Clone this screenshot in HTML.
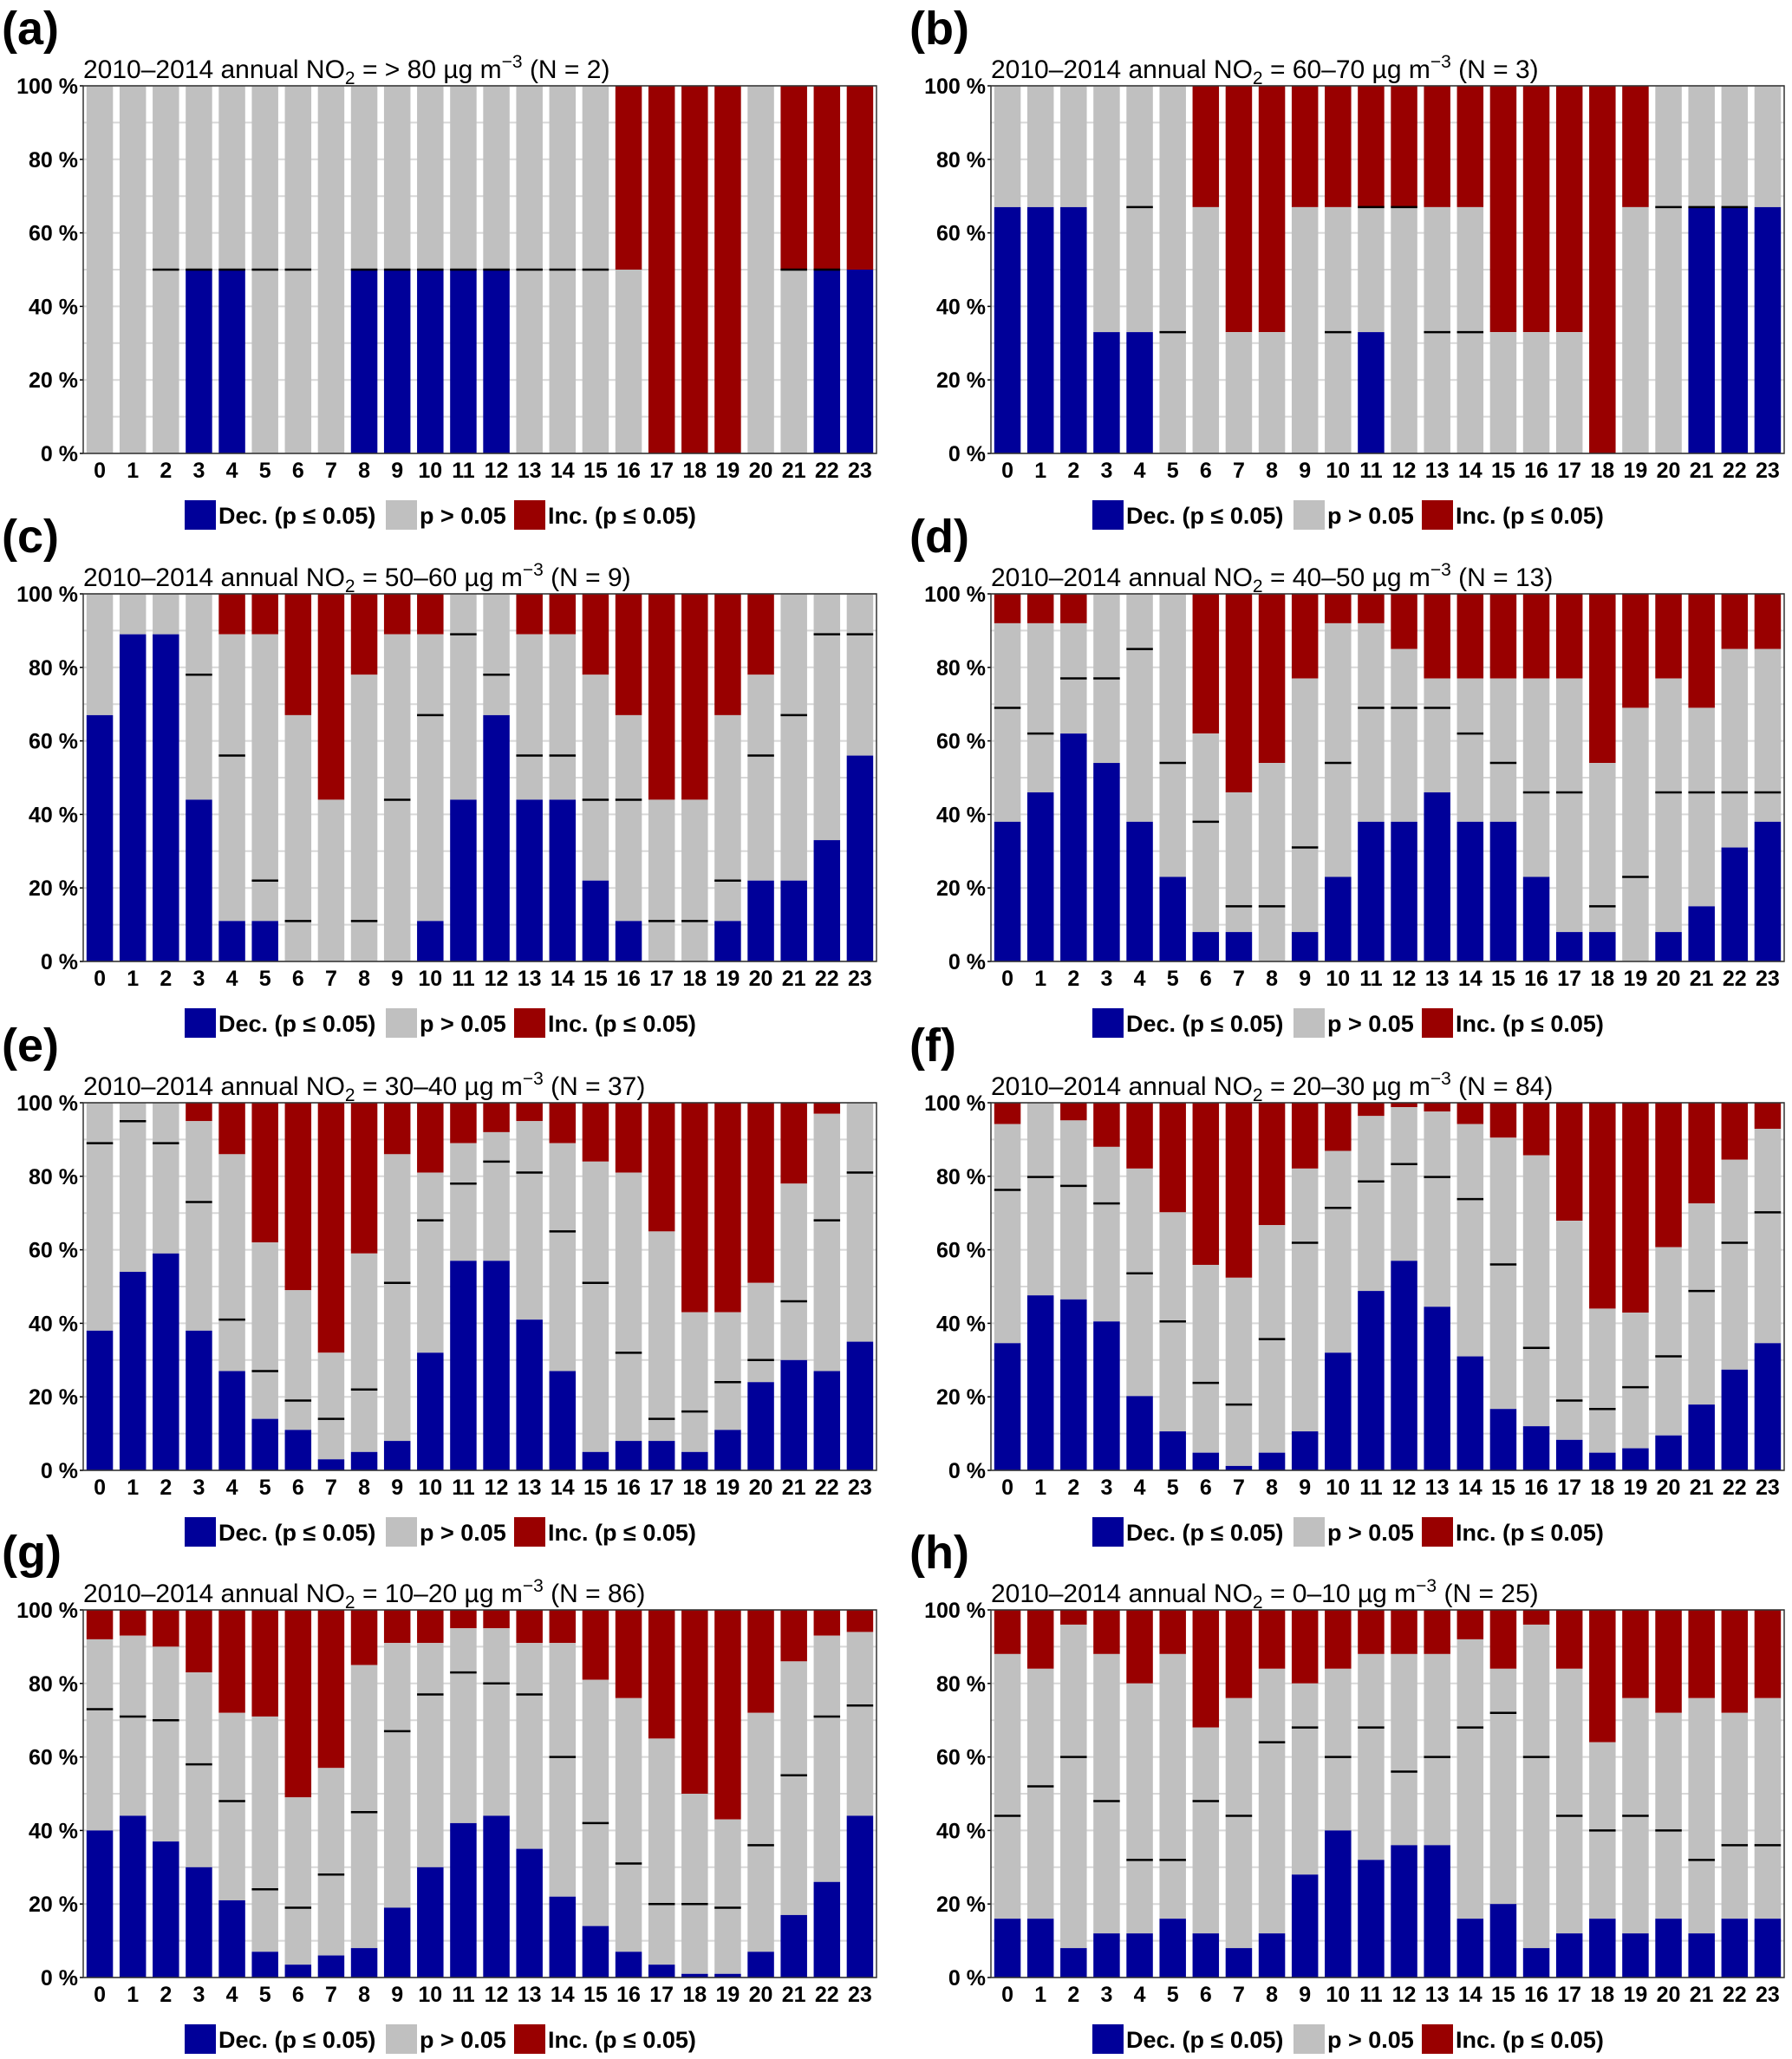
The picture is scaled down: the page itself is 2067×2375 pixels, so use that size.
<!DOCTYPE html>
<html><head><meta charset="utf-8"><style>
html,body{margin:0;padding:0;background:#fff;}
svg{display:block;}
text{font-family:"Liberation Sans Narrow","Liberation Sans",sans-serif;}
</style></head><body>
<svg id="fig" width="2067" height="2375" viewBox="0 0 2067 2375" xmlns="http://www.w3.org/2000/svg"></svg>
<script>
const hours = ["0","1","2","3","4","5","6","7","8","9","10","11","12","13","14","15","16","17","18","19","20","21","22","23"];
const yTicks = [0,20,40,60,80,100];
const panelLetters = ["(a)","(b)","(c)","(d)","(e)","(f)","(g)","(h)"];
const panelRanges = ["> 80","60–70","50–60","40–50","30–40","20–30","10–20","0–10"];
const panelN = [2,3,9,13,37,84,86,25];
// decrease share (blue) per hour
const decA=[0,0,0,50,50,0,0,0,50,50,50,50,50,0,0,0,0,0,0,0,0,0,50,50];
const decB=[67,67,67,33,33,0,0,0,0,0,0,33,0,0,0,0,0,0,0,0,0,67,67,67];
const decC=[67,89,89,44,11,11,0,0,0,0,11,44,67,44,44,22,11,0,0,11,22,22,33,56];
const decD=[38,46,62,54,38,23,8,8,0,8,23,38,38,46,38,38,23,8,8,0,8,15,31,38];
const decE=[38,54,59,38,27,14,11,3,5,8,32,57,57,41,27,5,8,8,5,11,24,30,27,35];
const decF=[34.6,47.6,46.5,40.5,20.2,10.6,4.8,1.2,4.8,10.6,32,48.8,57,44.5,31,16.7,12,8.3,4.8,6,9.5,17.9,27.4,34.6];
const decG=[40,44,37,30,21,7,3.5,6,8,19,30,42,44,35,22,14,7,3.5,1,1,7,17,26,44];
const decH=[16,16,8,12,12,16,12,8,12,28,40,32,36,36,16,20,8,12,16,12,16,12,16,16];
// top of non-significant (grey) share = 100 - increase share
const topA=[100,100,100,100,100,100,100,100,100,100,100,100,100,100,100,100,50,0,0,0,100,50,50,50];
const topB=[100,100,100,100,100,100,67,33,33,67,67,67,67,67,67,33,33,33,0,67,100,100,100,100];
const topC=[100,100,100,100,89,89,67,44,78,89,89,100,100,89,89,78,67,44,44,67,78,100,100,100];
const topD=[92,92,92,100,100,100,62,46,54,77,92,92,85,77,77,77,77,77,54,69,77,69,85,85];
const topE=[100,100,100,95,86,62,49,32,59,86,81,89,92,95,89,84,81,65,43,43,51,78,97,100];
const topF=[94.2,100,95.2,88,82.1,70.2,55.9,52.4,66.7,82.1,86.9,96.4,98.8,97.6,94.2,90.5,85.7,67.9,44,42.9,60.7,72.6,84.5,92.9];
const topG=[92,93,90,83,72,71,49,57,85,91,91,95,95,91,91,81,76,65,50,43,72,86,93,94];
const topH=[88,84,96,88,80,88,68,76,84,80,84,88,88,88,92,84,96,84,64,76,72,76,72,76];
// black marker line inside bars (null = none)
const midA=[null,null,50,50,50,50,50,null,50,50,50,50,50,50,50,50,null,null,null,null,null,50,50,null];
const midB=[null,null,null,null,67,33,null,null,null,null,33,67,67,33,33,null,null,null,null,null,67,67,67,null];
const midC=[null,null,null,78,56,22,11,null,11,44,67,89,78,56,56,44,44,11,11,22,56,67,89,89];
const midD=[69,62,77,77,85,54,38,15,15,31,54,69,69,69,62,54,46,46,15,23,46,46,46,46];
const midE=[89,95,89,73,41,27,19,14,22,51,68,78,84,81,65,51,32,14,16,24,30,46,68,81];
const midF=[76.3,79.8,77.4,72.6,53.6,40.5,23.8,17.9,35.7,61.9,71.4,78.6,83.3,79.8,73.8,56,33.3,19,16.7,22.6,31,48.8,61.9,70.2];
const midG=[73,71,70,58,48,24,19,28,45,67,77,83,80,77,60,42,31,20,20,19,36,55,71,74];
const midH=[44,52,60,48,32,32,48,44,64,68,60,68,56,60,68,72,60,44,40,44,40,32,36,36];

const decs=[decA,decB,decC,decD,decE,decF,decG,decH];
const tops=[topA,topB,topC,topD,topE,topF,topG,topH];
const mids=[midA,midB,midC,midD,midE,midF,midG,midH];

const NS="http://www.w3.org/2000/svg";
const svg=document.getElementById('fig');
const colX=[96,1143], plotW=915;
const rowTop=[99,685,1272,1857], plotH=424;
const BLUE="#000099", GREY="#c0c0c0", RED="#990000";
function mk(tag,attrs,parent){const e=document.createElementNS(NS,tag);for(const k in attrs)e.setAttribute(k,attrs[k]);(parent||svg).appendChild(e);return e;}

for(let p=0;p<8;p++){
  const x0=colX[p%2], y0=rowTop[Math.floor(p/2)];
  const g=mk('g',{});
  
  
  const yS=v=>y0+plotH-v/100*plotH;
  const slot=plotW/hours.length, bw=slot*0.8;
  const xS=i=>x0+i*slot+(slot-bw)/2;
  // letter
  const L=mk('text',{x:x0-94,y:y0-48,'font-size':54,'font-weight':'bold',fill:'#000'},g);
  L.textContent=panelLetters[p];
  
  
  // title
  const T=mk('text',{x:x0,y:y0-9,'font-size':30,fill:'#000'},g);
  
  
  T.innerHTML='2010–2014 annual NO<tspan font-size="21" dy="7">2</tspan><tspan dy="-7"> = '+panelRanges[p]+' µg m</tspan><tspan font-size="21" dy="-12">−3</tspan><tspan dy="12"> (N = '+panelN[p]+')</tspan>';
  // grid
  for(let v=0;v<=100;v+=10){
    const l=mk('line',{x1:x0,x2:x0+plotW,y1:yS(v),y2:yS(v),stroke:'#d8d8d8','stroke-width':2},g);
    
    
  }
  // y ticks
  yTicks.forEach(v=>{
    const t=mk('text',{x:x0-6,y:yS(v)+9,'font-size':25,'font-weight':'bold','text-anchor':'end',fill:'#000'},g);
    t.textContent=v+' %';
    
    
    mk('line',{x1:x0-4,x2:x0,y1:yS(v),y2:yS(v),stroke:'#000','stroke-width':1.5},g);
  });
  // bars
  const dec=decs[p], top=tops[p], mid=mids[p];
  hours.forEach((h,i)=>{
    const bx=xS(i);
    const rb=mk('rect',{x:bx,y:yS(100),width:bw,height:yS(top[i])-yS(100),fill:RED},g);
    
    
    const gb=mk('rect',{x:bx,y:yS(top[i]),width:bw,height:yS(dec[i])-yS(top[i]),fill:GREY},g);
    
    
    const db=mk('rect',{x:bx,y:yS(dec[i]),width:bw,height:yS(0)-yS(dec[i]),fill:BLUE},g);
    
    
    if(mid[i]!==null){
      const m=mk('line',{x1:bx,x2:bx+bw,y1:yS(mid[i]),y2:yS(mid[i]),stroke:'#000','stroke-width':2.5},g);
      
      
    }
    const xt=mk('text',{x:bx+bw/2,y:y0+plotH+28,'font-size':25,'font-weight':'bold','text-anchor':'middle',fill:'#000'},g);
    xt.textContent=h;
    
    
  });
  const fr=mk('rect',{x:x0,y:y0,width:plotW,height:plotH,fill:'none',stroke:'#333','stroke-width':1.5},g);
  
  
  // legend
  const ly=y0+plotH+54;
  const items=[[BLUE,'Dec. (p ≤ 0.05)',117],[GREY,'p > 0.05',349],[RED,'Inc. (p ≤ 0.05)',497]];
  items.forEach(it=>{
    const r=mk('rect',{x:x0+it[2],y:ly,width:36,height:34,fill:it[0]},g);
    
    
    const t=mk('text',{x:x0+it[2]+39,y:ly+27,'font-size':27,'font-weight':'bold',fill:'#000'},g);
    t.textContent=it[1];
    
    
  });
}
</script>
</body></html>
